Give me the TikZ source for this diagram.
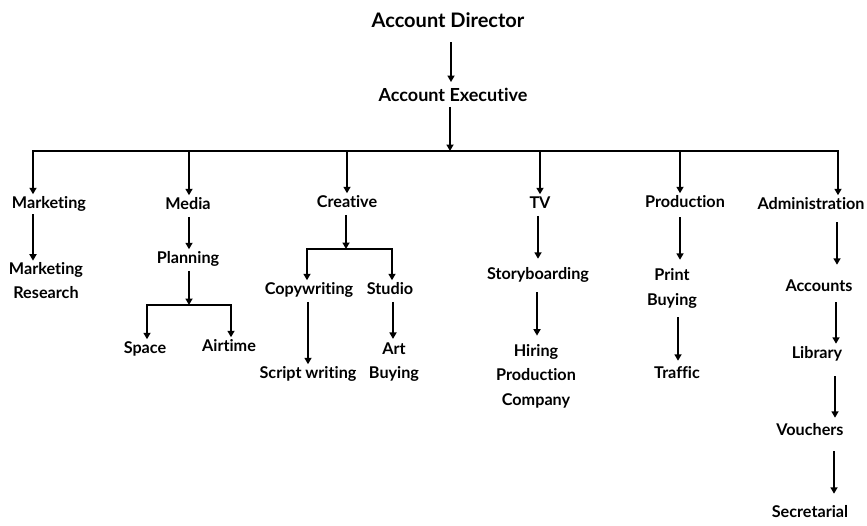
\documentclass[tikz,border=0pt]{standalone}
\usepackage{fontspec}
\setmainfont{Lato}[Ligatures={NoCommon,NoRare}]
\usetikzlibrary{arrows.meta}
\begin{document}
\begin{tikzpicture}[x=1pt,y=-1pt,
  lbl/.style={font=\bfseries\fontsize{16.2}{24.5}\selectfont, inner sep=1.3pt, text height=11pt, text depth=3.5pt},
  mlbl/.style={font=\bfseries\fontsize{16.2}{24.5}\selectfont, inner sep=1.3pt, align=center},
  link/.style={line width=1.8pt, line cap=rect},
  arr/.style={line width=1.8pt, -{Triangle[length=6.5pt,width=7pt]}, shorten <=2pt, shorten >=2pt},
]
\useasboundingbox (0,0) rectangle (867,525);

% top
\node[font=\bfseries\fontsize{20}{22}\selectfont, inner sep=1.5pt, text height=14.5pt, text depth=4.5pt] (ad) at (448,22) {Account Director};
\node[font=\bfseries\fontsize{18}{20}\selectfont, inner sep=1.5pt, text height=12.5pt, text depth=4pt] (ae) at (453,97) {Account Executive};
\coordinate (c0) at (451,0);
\coordinate (bus) at (450,151);
\draw[arr, shorten <=9pt, shorten >=5pt] (ad.south -| c0) -- (ae.north -| c0);
\draw[arr, shorten <=0pt, shorten >=0pt] (ae.south -| bus) -- (bus);

% level 1
\coordinate (k1) at (33,151);
\coordinate (k2) at (189,151);
\coordinate (k3) at (347,151);
\coordinate (k4) at (540,151);
\coordinate (k5) at (680,151);
\coordinate (k6) at (838,151);
\node[lbl] (mkt) at (49,205) {Marketing};
\node[lbl] (med) at (188,206) {Media};
\node[lbl] (cre) at (347,204) {Creative};
\node[lbl] (tv) at (540,205) {TV};
\node[lbl] (prod) at (685,204) {Production};
\node[lbl] (adm) at (811,206) {Administration};
\draw[link] (k1) -- (k6);
\foreach \k/\n in {k1/mkt,k2/med,k3/cre,k4/tv,k5/prod,k6/adm}
  \draw[arr, shorten <=0pt] (\k) -- (\k |- \n.north);

% Marketing
\node[mlbl] (mktr) at (46,280.5) {Marketing\\Research};
\draw[arr, shorten <=0.5pt, shorten >=0pt] (mkt.south -| k1) -- (mktr.north -| k1);

% Media
\node[lbl] (plan) at (188,260) {Planning};
\node[lbl] (space) at (145,350) {Space};
\node[lbl] (air) at (229,348) {Airtime};
\coordinate (pbus) at (189,305);
\coordinate (ps1) at (147,305);
\coordinate (ps2) at (231,305);
\draw[arr] (med.south -| k2) -- (plan.north -| k2);
\draw[arr, shorten >=0pt] (plan.south -| pbus) -- (pbus);
\draw[link] (ps1) -- (ps2);
\draw[arr, shorten <=0pt] (ps1) -- (ps1 |- space.north);
\draw[arr, shorten <=0pt] (ps2) -- (ps2 |- air.north);

% Creative
\node[lbl] (cw) at (309,291) {Copywriting};
\node[lbl] (stu) at (390,291) {Studio};
\node[lbl] (sw) at (308,375) {Script writing};
\node[mlbl] (art) at (394,362) {Art\\Buying};
\coordinate (cbus) at (346,249);
\coordinate (cs1) at (307,249);
\coordinate (cs2) at (392,249);
\coordinate (cx1) at (308,0);
\coordinate (cx2) at (393,0);
\draw[arr, shorten >=0pt] (cre.south -| cbus) -- (cbus);
\draw[link] (cs1) -- (cs2);
\draw[arr, shorten <=0pt] (cs1) -- (cs1 |- cw.north);
\draw[arr, shorten <=0pt] (cs2) -- (cs2 |- stu.north);
\draw[arr] (cw.south -| cx1) -- (sw.north -| cx1);
\draw[arr] (stu.south -| cx2) -- (art.north -| cx2);

% TV
\node[lbl] (story) at (538,276) {Storyboarding};
\node[mlbl] (hire) at (536,376) {Hiring\\Production\\Company};
\coordinate (tx1) at (538,0);
\coordinate (tx2) at (537,0);
\draw[arr, shorten >=8.5pt] (tv.south -| tx1) -- (story.north -| tx1);
\draw[arr, shorten <=7.5pt, shorten >=7pt] (story.south -| tx2) -- (hire.north -| tx2);

% Production
\node[mlbl] (pbuy) at (672,288.5) {Print\\Buying};
\node[lbl] (traf) at (677,375) {Traffic};
\coordinate (px1) at (680,0);
\coordinate (px2) at (678,0);
\draw[arr, shorten <=4.5pt, shorten >=7.5pt] (prod.south -| px1) -- (pbuy.north -| px1);
\draw[arr, shorten <=7.5pt, shorten >=5.5pt] (pbuy.south -| px2) -- (traf.north -| px2);

% Administration
\node[lbl] (acc) at (819,288) {Accounts};
\node[lbl] (lib) at (817,355) {Library};
\node[lbl] (vou) at (810,432) {Vouchers};
\node[lbl] (sec) at (810,514) {Secretarial};
\coordinate (ax1) at (837,0);
\coordinate (ax2) at (836,0);
\coordinate (ax3) at (835,0);
\coordinate (ax4) at (834,0);
\draw[arr, shorten <=7.5pt, shorten >=14.5pt] (adm.south -| ax1) -- (acc.north -| ax1);
\draw[arr, shorten <=5.5pt, shorten >=2.5pt] (acc.south -| ax2) -- (lib.north -| ax2);
\draw[arr, shorten <=12.5pt, shorten >=5.5pt] (lib.south -| ax3) -- (vou.north -| ax3);
\draw[arr, shorten <=10.5pt, shorten >=11.5pt] (vou.south -| ax4) -- (sec.north -| ax4);
\end{tikzpicture}
\end{document}
